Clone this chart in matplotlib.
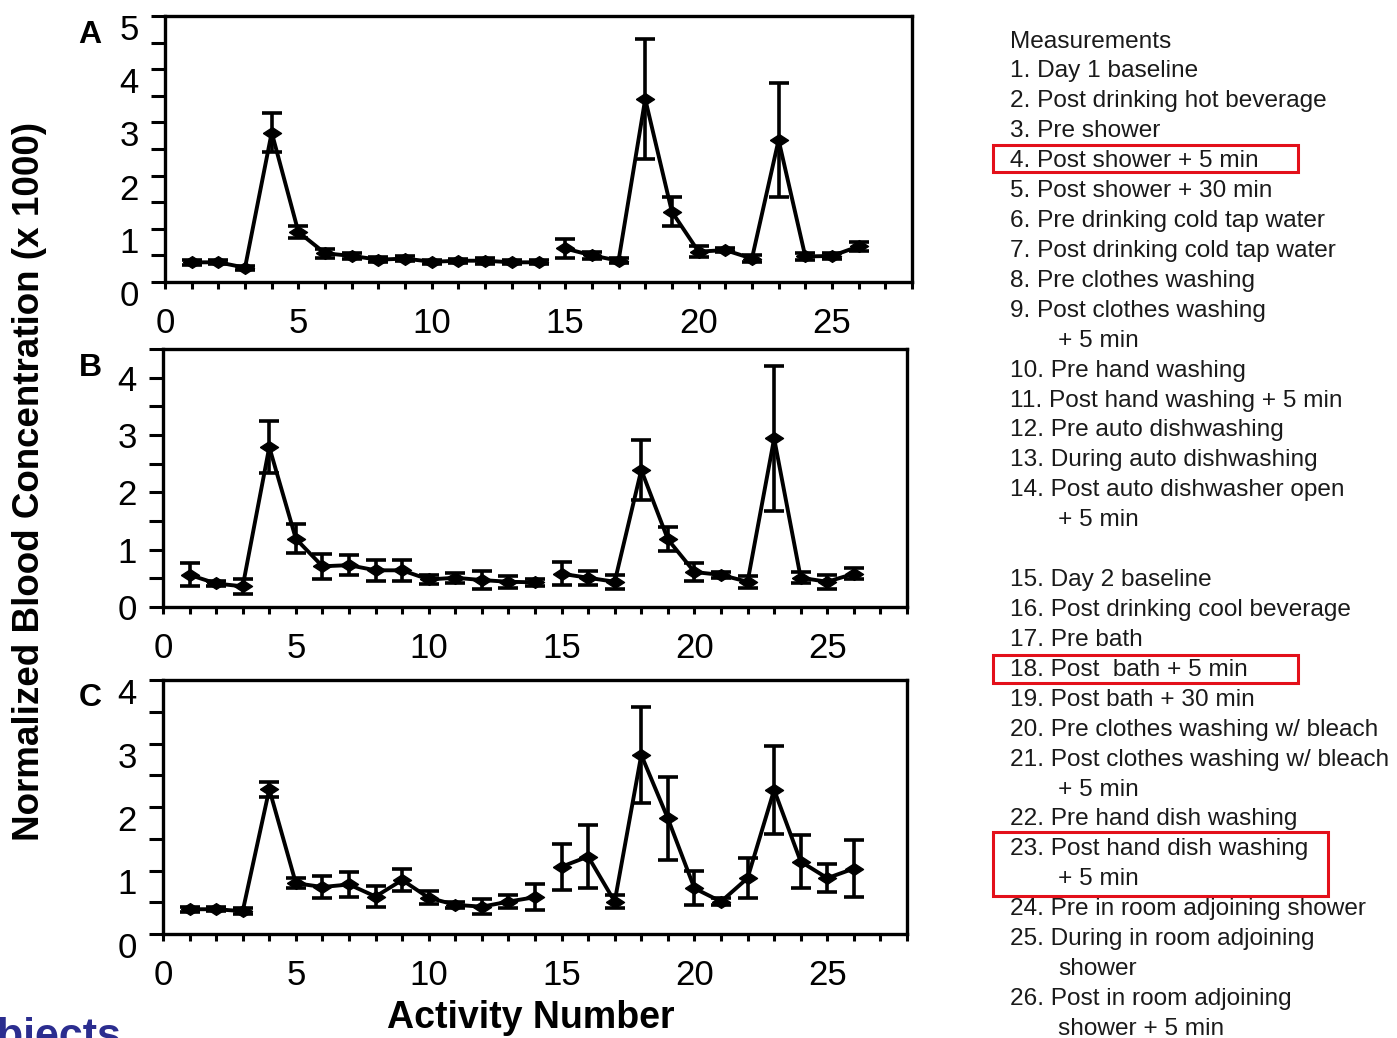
import matplotlib
matplotlib.use("Agg")
import matplotlib.pyplot as plt
import matplotlib.ticker as ticker
import matplotlib.transforms as mtransforms
from matplotlib.patches import Rectangle
import numpy as np

plt.rcParams['font.family'] = ['Liberation Sans', 'DejaVu Sans']

activity = np.arange(1, 27)

a_mean = [0.37, 0.37, 0.27, 2.81, 0.94, 0.54, 0.49, 0.42, 0.44, 0.38, 0.40, 0.40, 0.37, 0.37,
          0.63, 0.50, 0.40, 3.44, 1.32, 0.57, 0.60, 0.44, 2.67, 0.48, 0.49, 0.67]
a_err = [0.05, 0.04, 0.04, 0.37, 0.12, 0.08, 0.05, 0.05, 0.05, 0.04, 0.04, 0.06, 0.04, 0.04,
         0.17, 0.06, 0.05, 1.12, 0.27, 0.10, 0.04, 0.07, 1.07, 0.06, 0.06, 0.08]

b_mean = [0.56, 0.41, 0.36, 2.79, 1.19, 0.71, 0.73, 0.64, 0.64, 0.48, 0.51, 0.47, 0.44, 0.43,
          0.58, 0.51, 0.44, 2.39, 1.18, 0.61, 0.56, 0.44, 2.94, 0.51, 0.44, 0.58]
b_err = [0.20, 0.05, 0.13, 0.45, 0.25, 0.22, 0.18, 0.18, 0.18, 0.08, 0.09, 0.15, 0.10, 0.06,
         0.20, 0.12, 0.12, 0.52, 0.21, 0.16, 0.05, 0.10, 1.27, 0.10, 0.12, 0.10]

c_mean = [0.39, 0.39, 0.36, 2.28, 0.80, 0.74, 0.78, 0.59, 0.85, 0.57, 0.46, 0.43, 0.51, 0.58,
          1.06, 1.22, 0.51, 2.82, 1.82, 0.72, 0.51, 0.88, 2.27, 1.14, 0.88, 1.03]
c_err = [0.04, 0.03, 0.05, 0.12, 0.08, 0.17, 0.20, 0.17, 0.18, 0.10, 0.05, 0.12, 0.10, 0.20,
         0.36, 0.50, 0.10, 0.76, 0.66, 0.27, 0.05, 0.31, 0.69, 0.42, 0.22, 0.45]

legend_lines = [
    ("Measurements", 0), ("1. Day 1 baseline", 0), ("2. Post drinking hot beverage", 0),
    ("3. Pre shower", 0), ("4. Post shower + 5 min", 0), ("5. Post shower + 30 min", 0),
    ("6. Pre drinking cold tap water", 0), ("7. Post drinking cold tap water", 0),
    ("8. Pre clothes washing", 0), ("9. Post clothes washing", 0), ("+ 5 min", 1),
    ("10. Pre hand washing", 0), ("11. Post hand washing + 5 min", 0),
    ("12. Pre auto dishwashing", 0), ("13. During auto dishwashing", 0),
    ("14. Post auto dishwasher open", 0), ("+ 5 min", 1), ("", 0),
    ("15. Day 2 baseline", 0), ("16. Post drinking cool beverage", 0), ("17. Pre bath", 0),
    ("18. Post  bath + 5 min", 0), ("19. Post bath + 30 min", 0),
    ("20. Pre clothes washing w/ bleach", 0), ("21. Post clothes washing w/ bleach", 0),
    ("+ 5 min", 1), ("22. Pre hand dish washing", 0), ("23. Post hand dish washing", 0),
    ("+ 5 min", 1), ("24. Pre in room adjoining shower", 0), ("25. During in room adjoining", 0),
    ("shower", 1), ("26. Post in room adjoining", 0), ("shower + 5 min", 1),
]

W, H = 1397, 1038
fig = plt.figure(figsize=(W / 100, H / 100), dpi=100)


def px_axes(left, top, right, bottom):
    return fig.add_axes([left / W, 1 - bottom / H, (right - left) / W, (bottom - top) / H])


diamond = [(-1, 0), (0, 0.65), (1, 0), (0, -0.65), (-1, 0)]

panels = [
    (px_axes(165, 16, 912, 282), a_mean, a_err, 5, 11, "A", 35),
    (px_axes(163, 349, 907, 607), b_mean, b_err, 4.5, 0, "B", 368),
    (px_axes(163, 680, 907, 934), c_mean, c_err, 4, 11, "C", 698),
]

for ax, mean, err, ytop, yshift, letter, ly in panels:
    mean = np.array(mean)
    err = np.array(err)
    # day 1 and day 2 drawn as separate lines
    for sl in (slice(0, 14), slice(14, 26)):
        ax.errorbar(activity[sl], mean[sl], yerr=err[sl], color='black', lw=2.8,
                    elinewidth=2.6, capsize=7, capthick=2.6,
                    marker=diamond, markersize=13, markerfacecolor='black')
    ax.set_xlim(0, 28)
    ax.set_ylim(0, ytop)
    ax.xaxis.set_major_locator(ticker.FixedLocator([0, 5, 10, 15, 20, 25]))
    ax.xaxis.set_minor_locator(ticker.MultipleLocator(1))
    ax.yaxis.set_major_locator(ticker.MultipleLocator(1))
    ax.yaxis.set_minor_locator(ticker.MultipleLocator(0.5))
    for s in ax.spines.values():
        s.set_linewidth(2.4)
    ax.tick_params(axis='x', which='both', direction='out', length=5, width=2.2, labelsize=25, pad=13)
    ax.tick_params(axis='y', which='both', direction='out', length=10, width=2.2, labelsize=25, pad=9)
    off = mtransforms.ScaledTranslation(0, -yshift / 100, fig.dpi_scale_trans)
    for lab in ax.get_yticklabels():
        lab.set_transform(lab.get_transform() + off)
    fig.text(90 / W, 1 - ly / H, letter, fontsize=23, fontweight='bold', ha='center', va='center')

fig.text(30 / W, 1 - 481 / H, "Normalized Blood Concentration (x 1000)", rotation=90,
         fontsize=26.5, fontweight='bold', ha='center', va='center')
fig.text(531 / W, 1 - 1018 / H, "Activity Number", fontsize=27, fontweight='bold',
         ha='center', va='center')
fig.text(122 / W, 1 - 1048 / H, "Subjects", fontsize=31, fontweight='bold',
         color='#2b2d8f', ha='right', va='baseline')

for i, (txt, indent) in enumerate(legend_lines):
    x = 1058 if indent else 1010
    y = 41.5 + 29.92 * i
    fig.text(x / W, 1 - y / H, txt, fontsize=17.6, color='#1a1a1a', ha='left', va='center')

for (l, t, r, b) in [(993, 145, 1298, 172), (993, 655, 1298, 683), (993, 832, 1328, 896)]:
    fig.patches.append(Rectangle((l / W, 1 - b / H), (r - l) / W, (b - t) / H,
                                 transform=fig.transFigure, fill=False,
                                 edgecolor='#e3101a', lw=2.2))

fig.savefig("out.png", dpi=100)
